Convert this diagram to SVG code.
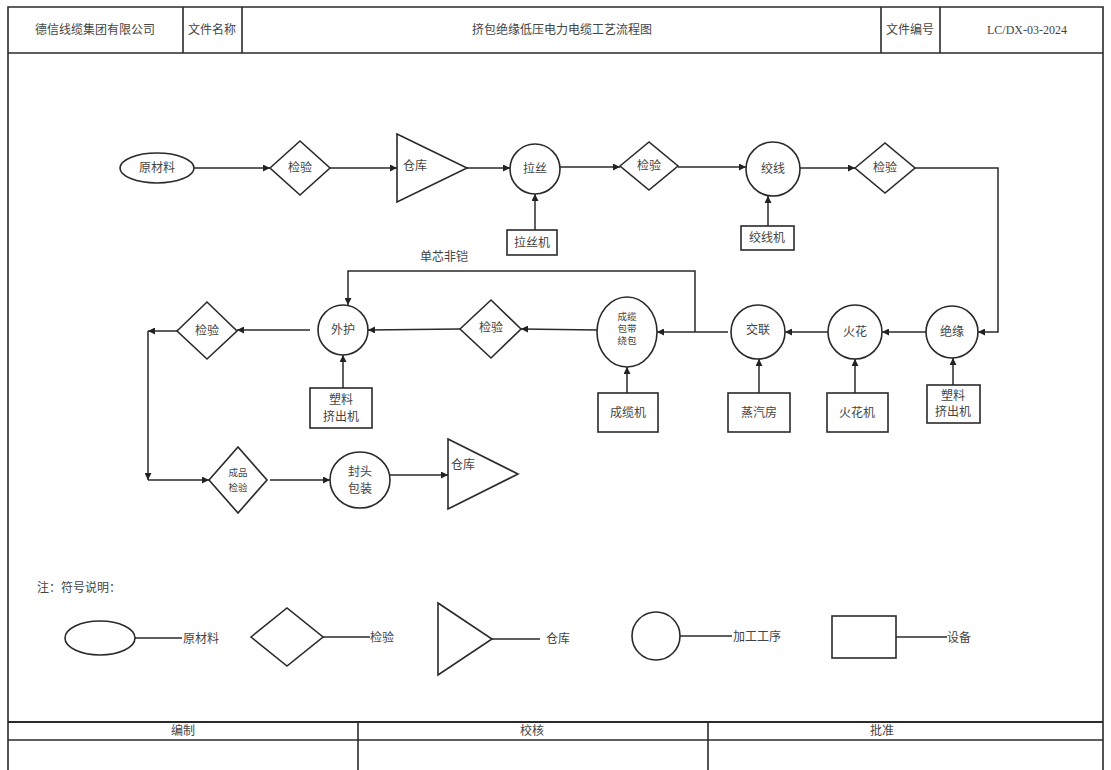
<svg xmlns="http://www.w3.org/2000/svg" width="1111" height="770" viewBox="0 0 1111 770">
<style>
.s{fill:#fff;stroke:#2a2a2a;stroke-width:1.6}
.f{fill:none;stroke:#2a2a2a;stroke-width:1.6}
.c{fill:none;stroke:#2a2a2a;stroke-width:1.5}
.t{font-family:"Liberation Serif","Noto Sans CJK SC",serif;font-size:12px;fill:#444;text-anchor:middle;dominant-baseline:central}
.sm{font-size:9.5px}
.l{text-anchor:start}
</style>
<defs>
<marker id="arr" viewBox="0 0 10 10" refX="10" refY="5" markerWidth="8" markerHeight="7" orient="auto" markerUnits="userSpaceOnUse"><path d="M0,0 L10,5 L0,10 z" fill="#222"/></marker>
</defs>
<rect width="1111" height="770" fill="#fff"/>

<g id="frame">
<path class="f" d="M8,770 V7 H1103 V770"/>
<line class="f" x1="8" y1="53" x2="1103" y2="53"/>
<line class="f" x1="183" y1="7" x2="183" y2="53"/>
<line class="f" x1="242" y1="7" x2="242" y2="53"/>
<line class="f" x1="881" y1="7" x2="881" y2="53"/>
<line class="f" x1="940" y1="7" x2="940" y2="53"/>
<text class="t" x="95" y="30">德信线缆集团有限公司</text>
<text class="t" x="212" y="30">文件名称</text>
<text class="t" x="562" y="30">挤包绝缘低压电力电缆工艺流程图</text>
<text class="t" x="910" y="30">文件编号</text>
<text class="t" x="1027" y="30">LC/DX-03-2024</text>
<line x1="8" y1="722" x2="1103" y2="722" stroke="#2a2a2a" stroke-width="2.2"/>
<line class="f" x1="8" y1="740" x2="1103" y2="740"/>
<line class="f" x1="358" y1="722" x2="358" y2="770"/>
<line class="f" x1="708" y1="722" x2="708" y2="770"/>
<text class="t" x="183" y="731">编制</text>
<text class="t" x="532" y="731">校核</text>
<text class="t" x="882" y="731">批准</text>
</g>

<g id="connectors">
<line class="c" x1="194" y1="168" x2="270" y2="168" marker-end="url(#arr)"/>
<line class="c" x1="330" y1="168" x2="397" y2="168" marker-end="url(#arr)"/>
<line class="c" x1="467" y1="168" x2="510" y2="168" marker-end="url(#arr)"/>
<line class="c" x1="560" y1="167" x2="620" y2="167" marker-end="url(#arr)"/>
<line class="c" x1="678" y1="167" x2="746" y2="167" marker-end="url(#arr)"/>
<line class="c" x1="800" y1="168" x2="855" y2="168" marker-end="url(#arr)"/>
<path class="c" d="M915,168 H998 V332 H978" marker-end="url(#arr)"/>
<line class="c" x1="535" y1="230" x2="535" y2="194" marker-end="url(#arr)"/>
<line class="c" x1="768" y1="226" x2="768" y2="196" marker-end="url(#arr)"/>
<line class="c" x1="953" y1="385" x2="953" y2="358" marker-end="url(#arr)"/>
<line class="c" x1="926" y1="332" x2="882" y2="332" marker-end="url(#arr)"/>
<line class="c" x1="855" y1="393" x2="855" y2="359" marker-end="url(#arr)"/>
<line class="c" x1="828" y1="332" x2="785" y2="332" marker-end="url(#arr)"/>
<line class="c" x1="759" y1="393" x2="759" y2="359" marker-end="url(#arr)"/>
<line class="c" x1="728" y1="332" x2="657" y2="332" marker-end="url(#arr)"/>
<path class="c" d="M695,332 V271 H348 V305" marker-end="url(#arr)"/>
<text class="t" x="444" y="257">单芯非铠</text>
<line class="c" x1="627" y1="393" x2="627" y2="367" marker-end="url(#arr)"/>
<line class="c" x1="597" y1="330" x2="521" y2="329" marker-end="url(#arr)"/>
<line class="c" x1="460" y1="329" x2="368" y2="330" marker-end="url(#arr)"/>
<line class="c" x1="343" y1="388" x2="343" y2="355" marker-end="url(#arr)"/>
<line class="c" x1="310" y1="330" x2="237" y2="330" marker-end="url(#arr)"/>
<line class="c" x1="177" y1="331" x2="148" y2="331" marker-end="url(#arr)"/>
<line class="c" x1="148" y1="331" x2="148" y2="480" marker-end="url(#arr)"/>
<line class="c" x1="148" y1="480" x2="209" y2="480" marker-end="url(#arr)"/>
<line class="c" x1="270" y1="480" x2="330" y2="480" marker-end="url(#arr)"/>
<line class="c" x1="390" y1="475" x2="448" y2="475" marker-end="url(#arr)"/>
</g>

<g id="n_raw"><ellipse class="s" cx="157" cy="168" rx="37" ry="15"/><text class="t" x="157" y="168">原材料</text></g>
<g id="n_insp1"><polygon class="s" points="270,168 300,141 330,168 300,195"/><text class="t" x="300" y="168">检验</text></g>
<g id="n_store1"><polygon class="s" points="397,134 467,168 397,202"/><text class="t l" x="403" y="166">仓库</text></g>
<g id="n_draw"><circle class="s" cx="535" cy="169" r="25"/><text class="t" x="535" y="169">拉丝</text></g>
<g id="n_drawm"><rect class="s" x="507" y="230" width="50" height="25"/><text class="t" x="532" y="243">拉丝机</text></g>
<g id="n_insp2"><polygon class="s" points="620,166 649,142 678,166 649,190"/><text class="t" x="649" y="166">检验</text></g>
<g id="n_strand"><circle class="s" cx="773" cy="169" r="27"/><text class="t" x="773" y="169">绞线</text></g>
<g id="n_strandm"><rect class="s" x="741" y="226" width="53" height="24"/><text class="t" x="767" y="238">绞线机</text></g>
<g id="n_insp3"><polygon class="s" points="855,168 885,143 915,168 885,193"/><text class="t" x="885" y="168">检验</text></g>

<g id="n_ins"><circle class="s" cx="952" cy="332" r="26"/><text class="t" x="952" y="332">绝缘</text></g>
<g id="n_insm"><rect class="s" x="927" y="385" width="53" height="38"/><text class="t" x="953" y="396">塑料</text><text class="t" x="953" y="412">挤出机</text></g>
<g id="n_spark"><circle class="s" cx="855" cy="332" r="27"/><text class="t" x="855" y="332">火花</text></g>
<g id="n_sparkm"><rect class="s" x="827" y="393" width="61" height="39"/><text class="t" x="857" y="413">火花机</text></g>
<g id="n_xlink"><circle class="s" cx="758" cy="332" r="27"/><text class="t" x="758" y="330">交联</text></g>
<g id="n_steam"><rect class="s" x="728" y="393" width="62" height="39"/><text class="t" x="759" y="413">蒸汽房</text></g>
<g id="n_cable"><ellipse class="s" cx="627" cy="332" rx="30" ry="35"/><text class="t sm" x="627" y="317">成缆</text><text class="t sm" x="627" y="329">包带</text><text class="t sm" x="627" y="341">绕包</text></g>
<g id="n_cablem"><rect class="s" x="598" y="393" width="60" height="39"/><text class="t" x="628" y="413">成缆机</text></g>
<g id="n_insp4"><polygon class="s" points="460,329 491,300 521,329 491,358"/><text class="t" x="491" y="328">检验</text></g>
<g id="n_sheath"><circle class="s" cx="343" cy="330" r="25"/><text class="t" x="343" y="330">外护</text></g>
<g id="n_sheathm"><rect class="s" x="310" y="388" width="62" height="40"/><text class="t" x="341" y="400">塑料</text><text class="t" x="341" y="417">挤出机</text></g>
<g id="n_insp5"><polygon class="s" points="177,331 207,302 237,331 207,359"/><text class="t" x="207" y="331">检验</text></g>

<g id="n_final"><polygon class="s" points="209,480 238,447 267,480 238,513"/><text class="t sm" x="238" y="473">成品</text><text class="t sm" x="238" y="488">检验</text></g>
<g id="n_pack"><ellipse class="s" cx="360" cy="480" rx="30" ry="28"/><text class="t" x="360" y="472">封头</text><text class="t" x="360" y="489">包装</text></g>
<g id="n_store2"><polygon class="s" points="448,439 518,474 448,509"/><text class="t l" x="451" y="465">仓库</text></g>

<g id="legend">
<text class="t l" x="37" y="588">注：符号说明：</text>
<ellipse class="s" cx="100" cy="638" rx="35" ry="17"/>
<line class="c" x1="135" y1="638" x2="182" y2="638"/>
<text class="t l" x="183" y="639">原材料</text>
<polygon class="s" points="251,637 287,608 323,637 287,666"/>
<line class="c" x1="323" y1="637" x2="370" y2="637"/>
<text class="t l" x="370" y="638">检验</text>
<polygon class="s" points="438,603 492,639 438,675"/>
<line class="c" x1="492" y1="639" x2="540" y2="639"/>
<text class="t l" x="546" y="639">仓库</text>
<circle class="s" cx="656" cy="636" r="24"/>
<line class="c" x1="680" y1="636" x2="732" y2="636"/>
<text class="t l" x="733" y="637">加工工序</text>
<rect class="s" x="832" y="616" width="64" height="42"/>
<line class="c" x1="896" y1="637" x2="947" y2="637"/>
<text class="t l" x="947" y="638">设备</text>
</g>
</svg>
